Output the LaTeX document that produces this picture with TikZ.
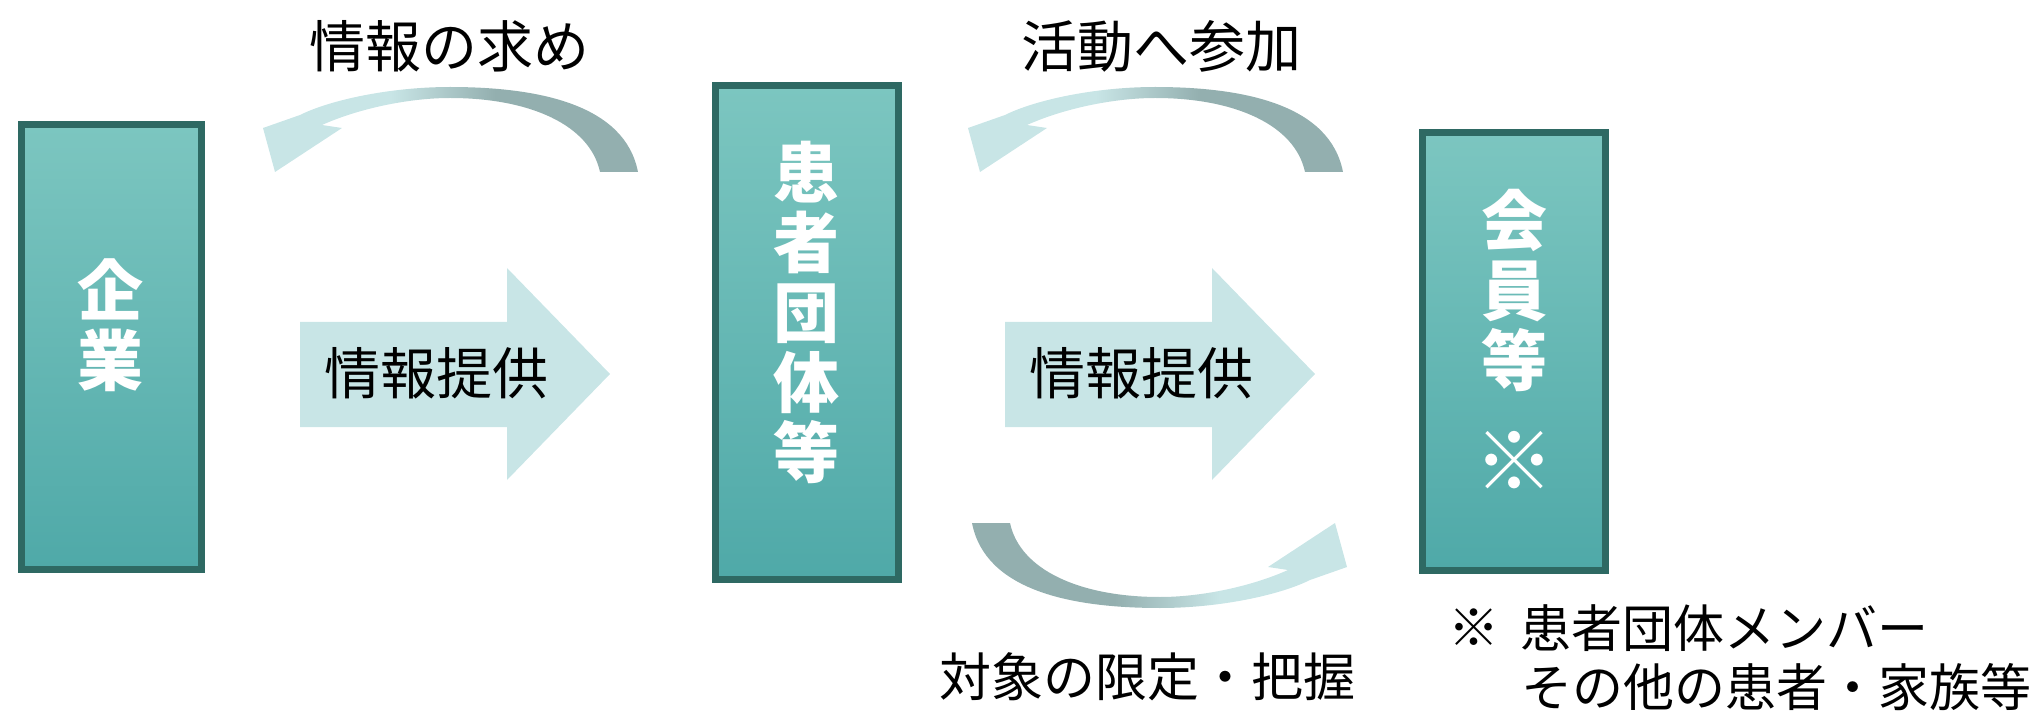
\documentclass[tikz,border=0pt]{standalone}
\usepackage{fontspec}
\newfontfamily\jp{Noto Sans CJK JP}
\usetikzlibrary{calc}
\definecolor{boxtop}{HTML}{7CC6C0}
\definecolor{boxbot}{HTML}{4FA9A8}
\definecolor{boxline}{HTML}{2E6963}
\definecolor{arrlight}{HTML}{C8E5E6}
\definecolor{arrdark}{HTML}{93AFAF}
\pgfdeclarehorizontalshading{arrLD}{100bp}{color(0bp)=(arrlight); color(25bp)=(arrlight); color(42bp)=(arrlight); color(56bp)=(arrdark); color(75bp)=(arrdark); color(100bp)=(arrdark)}
\pgfdeclarehorizontalshading{arrDL}{100bp}{color(0bp)=(arrdark); color(25bp)=(arrdark); color(44bp)=(arrdark); color(58bp)=(arrlight); color(75bp)=(arrlight); color(100bp)=(arrlight)}
\tikzset{
  entity/.style={draw=boxline, line width=3.5pt, top color=boxtop, bottom color=boxbot, inner sep=0pt},
  entitytext/.style={text=white, font=\jp\bfseries\fontsize{33}{35}\selectfont, align=center, inner sep=0pt},
  lbl/.style={text=black, font=\jp\fontsize{28}{30}\selectfont, inner sep=0pt},
  bottomlbl/.style={text=black, font=\jp\fontsize{26}{28}\selectfont, inner sep=0pt},
  notelbl/.style={text=black, font=\jp\fontsize{25.5}{27}\selectfont, inner sep=0pt},
  bigarrow/.style={fill=arrlight},
  carrowpath/.style={insert path={(638,172) .. controls (625,105) and (540,87) .. (450,87)
      .. controls (390,87) and (330,100) .. (300,115) -- (263,128) -- (275,172) -- (342,128) -- (322,125)
      .. controls (360,108) and (410,98) .. (450,98) .. controls (530,98) and (590,125) .. (600,172) -- cycle}},
  straightpath/.style={insert path={(300,322) -- (507,322) -- (507,268) -- (610,374) -- (507,480) -- (507,427) -- (300,427) -- cycle}}
}
\begin{document}
\begin{tikzpicture}[x=0.5pt,y=-0.5pt]
\useasboundingbox (0,0) rectangle (2041,711);
% curved arrows
\path[shading=arrLD, carrowpath];
\path[shading=arrLD, shift={(705,0)}, carrowpath];
\path[shading=arrDL, rotate around={180:(805,347.5)}, carrowpath];
% straight arrows
\path[bigarrow, straightpath];
\path[bigarrow, shift={(705,0)}, straightpath];
% boxes
\node[entity, minimum width=90pt, minimum height=222.5pt] (kigyo) at (111.5,347) {};
\node[entity, minimum width=91.5pt, minimum height=247pt] (dantai) at (807,332.5) {};
\node[entity, minimum width=91.5pt, minimum height=219pt] (kaiin) at (1514,351.5) {};
\node[entitytext] (kigyoT) at (110,325) {企\\業};
\node[entitytext] (dantaiT) at (806,312) {患\\者\\団\\体\\等};
\node[entitytext] (kaiinT) at (1514,290) {会\\員\\等};
\node[entitytext, font=\jp\bfseries\fontsize{40}{40}\selectfont] (kaiinMark) at (1514,461) {※};
% labels
\node[lbl] (l1) at (449,46) {情報の求め};
\node[lbl] (l2) at (1161,46) {活動へ参加};
\node[lbl] (l3) at (436.5,373.5) {情報提供};
\node[lbl] (l4) at (1141.5,373.5) {情報提供};
\node[bottomlbl] (l5) at (1147,677) {対象の限定・把握};
\node[notelbl] (fnmark) at (1474,628) {※};
\node[notelbl, anchor=west] (fn1) at (1520,628) {患者団体メンバー};
\node[notelbl, anchor=west] (fn2) at (1521,687) {その他の患者・家族等};
\end{tikzpicture}
\end{document}
